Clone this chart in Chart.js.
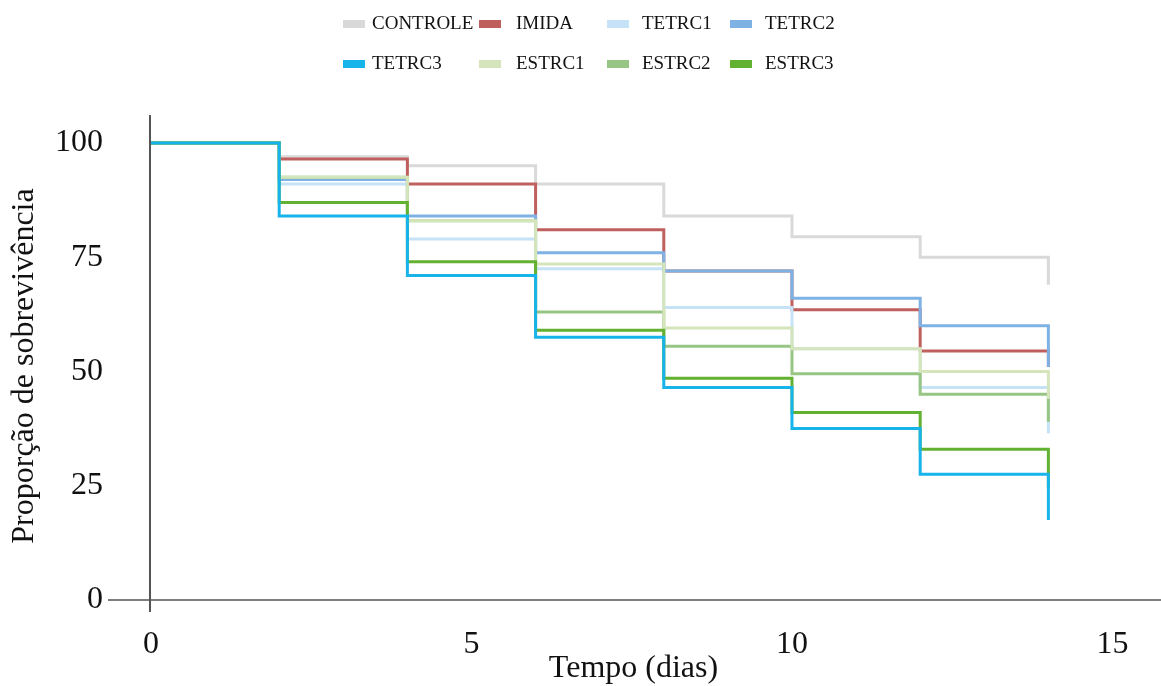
<!DOCTYPE html>
<html><head><meta charset="utf-8">
<script src="https://cdn.jsdelivr.net/npm/chart.js@4.4.1/dist/chart.umd.min.js"></script>
<style>
html,body{margin:0;padding:0;background:#fff;}
#wrap{position:relative;width:1161px;height:686px;overflow:hidden;}
#c{position:absolute;left:0;top:0;}
#legend{position:absolute;left:0;top:0;width:1161px;height:90px;font-family:'Liberation Serif',serif;font-size:19px;line-height:20px;color:#111;}
.lt{position:absolute;white-space:nowrap;}
.lb{position:absolute;width:22px;height:8px;}
</style></head><body>
<div id="wrap"><canvas id="c" width="1161" height="686"></canvas><div id="legend"></div></div>
<script>
// ---- data ----
const times = [0, 2, 4, 6, 8, 10, 12, 14];
const seriesNames = ['CONTROLE', 'IMIDA', 'TETRC1', 'TETRC2', 'TETRC3', 'ESTRC1', 'ESTRC2', 'ESTRC3'];
const CONTROLE = [100, 97, 95, 91, 84, 79.5, 75, 69];
const IMIDA    = [100, 96.5, 91, 81, 72, 63.5, 54.5, 51];
const TETRC1   = [100, 91, 79, 72.5, 64, 55, 46.5, 36.5];
const TETRC2   = [100, 92, 84, 76, 72, 66, 60, 51];
const TETRC3   = [100, 84, 71, 57.5, 46.5, 37.5, 27.5, 17.5];
const ESTRC1   = [100, 92.5, 83, 73.5, 59.5, 55, 50, 44];
const ESTRC2   = [100, 92.5, 83, 63, 55.5, 49.5, 45, 39];
const ESTRC3   = [100, 87, 74, 59, 48.5, 41, 33, 24.5];
const xTickValues = [0, 5, 10, 15];
const yTickValues = [0, 25, 50, 75, 100];
const xTitle = 'Tempo (dias)';
const yTitle = 'Proporção de sobrevivência';

// ---- styles ----
const seriesValues = [CONTROLE, IMIDA, TETRC1, TETRC2, TETRC3, ESTRC1, ESTRC2, ESTRC3];
const colors = ['#d9d9d9', '#c0605e', '#c6e2f6', '#7eb1e4', '#16b4ea', '#d5e5bb', '#97c583', '#63b130'];
const drawOrder = [7, 6, 5, 4, 0, 2, 3, 1];
const FONT = "'Liberation Serif', 'Times New Roman', serif";

const datasets = seriesNames.map((name, i) => ({
  label: name,
  data: times.map((t, j) => ({x: t, y: seriesValues[i][j]})),
  borderColor: colors[i],
  backgroundColor: colors[i],
  borderWidth: 3,
  pointRadius: 0,
  stepped: true,
  fill: false,
  order: drawOrder[i]
}));

const axisLines = {
  id: 'axisLines',
  afterDraw(chart) {
    const {ctx, scales: {x, y}} = chart;
    ctx.save();
    ctx.strokeStyle = '#555';
    ctx.lineWidth = 1.6;
    const y0 = y.getPixelForValue(0);
    ctx.beginPath();
    ctx.moveTo(x.left + 2, y0);
    ctx.lineTo(x.right, y0);
    ctx.stroke();
    const x0 = x.getPixelForValue(0) - 1;
    ctx.lineWidth = 2;
    ctx.beginPath();
    ctx.moveTo(x0, 115);
    ctx.lineTo(x0, y0 + 12);
    ctx.stroke();
    ctx.restore();
  }
};

new Chart(document.getElementById('c'), {
  type: 'line',
  data: {datasets},
  options: {
    responsive: false,
    animation: false,
    layout: {padding: {top: 132, left: 0, right: 0, bottom: 0}},
    plugins: {legend: {display: false}, tooltip: {enabled: false}},
    scales: {
      x: {
        type: 'linear',
        min: -0.702,
        max: 15.757,
        grid: {display: false, drawTicks: false},
        border: {display: false},
        afterBuildTicks: s => { s.ticks = xTickValues.map(v => ({value: v})); },
        afterFit: s => { s.height = 86; },
        ticks: {font: {family: FONT, size: 32}, color: '#111', padding: 25, maxRotation: 0, autoSkip: false},
        title: {display: true, text: xTitle, font: {family: FONT, size: 32}, color: '#111', padding: {top: 0, bottom: -2}}
      },
      y: {
        type: 'linear',
        min: 0,
        max: 102.4,
        grid: {display: false, drawTicks: false},
        border: {display: false},
        afterBuildTicks: s => { s.ticks = yTickValues.map(v => ({value: v})); },
        afterFit: s => { s.width = 106; },
        ticks: {font: {family: FONT, size: 32}, color: '#111', padding: 3, autoSkip: false},
        title: {display: true, text: yTitle, font: {family: FONT, size: 32}, color: '#111', padding: {top: 5, bottom: 0}}
      }
    }
  },
  plugins: [axisLines]
});

// ---- HTML legend ----
const colBox = [343, 479, 607, 730];
const colText = [372, 516, 642, 765];
const rowBox = [20, 60];
const rowText = [12.6, 52.6];
const leg = document.getElementById('legend');
seriesNames.forEach((name, i) => {
  const r = Math.floor(i / 4), c = i % 4;
  const b = document.createElement('div');
  b.className = 'lb';
  b.style.left = colBox[c] + 'px';
  b.style.top = rowBox[r] + 'px';
  b.style.background = colors[i];
  leg.appendChild(b);
  const t = document.createElement('div');
  t.className = 'lt';
  t.style.left = colText[c] + 'px';
  t.style.top = rowText[r] + 'px';
  t.textContent = name;
  leg.appendChild(t);
});
</script>
</body></html>
